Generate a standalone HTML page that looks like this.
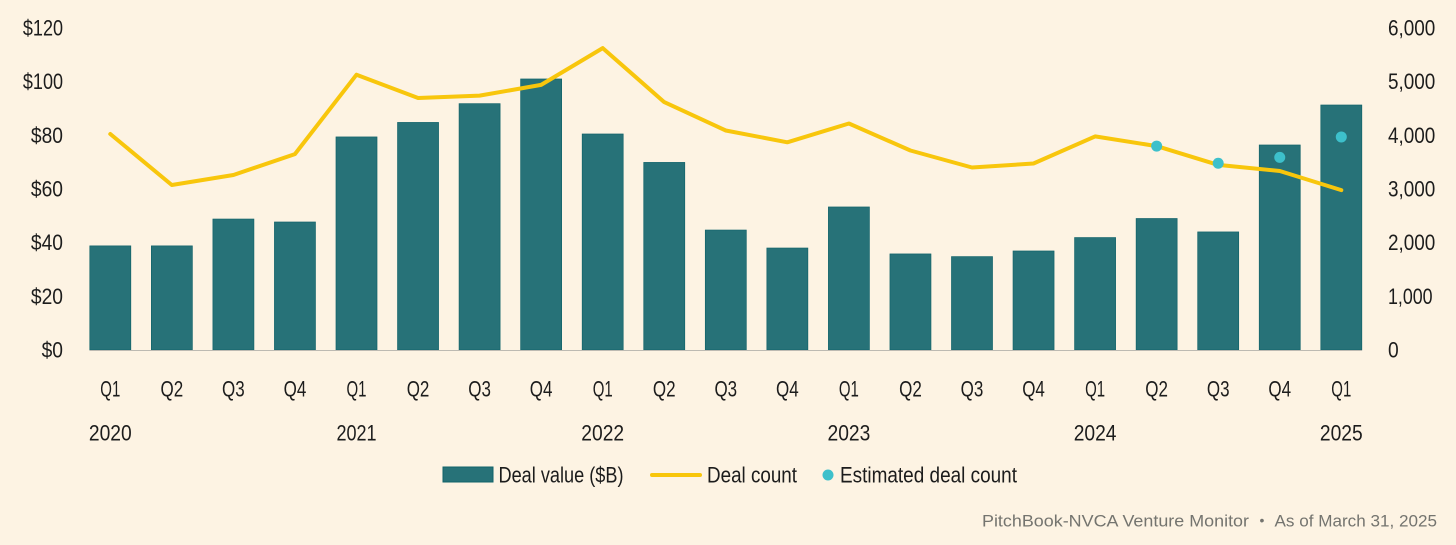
<!DOCTYPE html>
<html lang="en">
<head>
<meta charset="utf-8">
<title>Deal activity chart</title>
<style>
  html, body { margin: 0; padding: 0; background: #fdf3e3; }
  body { width: 1456px; height: 545px; overflow: hidden; }
  svg { display: block; }
  text { font-family: "Liberation Sans", sans-serif; font-size: 22px; fill: #1c1c1c; }
  .footer { font-family: "Liberation Sans", sans-serif; font-size: 16.5px; fill: #74746f; }
</style>
</head>
<body>
<svg id="chart" xmlns="http://www.w3.org/2000/svg" width="1456" height="545" viewBox="0 0 1456 545">
  <rect x="0" y="0" width="1456" height="545" fill="#fdf3e3"/>
  <g id="bars"></g>
  <line id="baseline" stroke="#bdbab2" stroke-width="1"/>
  <polyline id="line" fill="none" stroke="#f8c60c" stroke-width="4" stroke-linejoin="round" stroke-linecap="round"/>
  <g id="dots"></g>
  <g id="yleft"></g>
  <g id="yright"></g>
  <g id="xaxis"></g>
  <g>
    <g>
      <rect x="443" y="467" width="50" height="15" fill="#277278" stroke="#11636a" stroke-width="1"/>
      <text x="498.5" y="482.5" textLength="125" lengthAdjust="spacingAndGlyphs">Deal value ($B)</text>
    </g>
    <g>
      <line x1="652" y1="475" x2="700" y2="475" stroke="#f8c60c" stroke-width="4" stroke-linecap="round"/>
      <text x="707" y="482.5" textLength="90" lengthAdjust="spacingAndGlyphs">Deal count</text>
    </g>
    <g>
      <circle cx="828" cy="475" r="5.5" fill="#3dc0cb"/>
      <text x="840" y="482.5" textLength="177" lengthAdjust="spacingAndGlyphs">Estimated deal count</text>
    </g>
  </g>
  <g>
    <text class="footer" x="982" y="526.5" textLength="267" lengthAdjust="spacingAndGlyphs">PitchBook-NVCA Venture Monitor</text>
    <text class="footer" x="1262" y="525" text-anchor="middle" style="font-size:14px">•</text>
    <text class="footer" x="1274.5" y="526.5" textLength="162.5" lengthAdjust="spacingAndGlyphs">As of March 31, 2025</text>
  </g>
</svg>
<script>
const quarters = ["Q1","Q2","Q3","Q4","Q1","Q2","Q3","Q4","Q1","Q2","Q3","Q4","Q1","Q2","Q3","Q4","Q1","Q2","Q3","Q4","Q1"];
const years = ["2020","","","","2021","","","","2022","","","","2023","","","","2024","","","","2025"];
const dealValue = [38.8,38.8,48.8,47.7,79.4,84.8,91.8,101,80.5,69.9,44.7,38,53.3,35.8,34.8,36.9,41.9,49,44,76.4,91.3];
const dealCount = [4025,3075,3260,3650,5130,4695,4740,4940,5625,4620,4090,3870,4220,3717,3400,3475,3980,3800,3450,3335,2980];
const estimatedCount = [null,null,null,null,null,null,null,null,null,null,null,null,null,null,null,null,null,3800,3480,3590,3970];
const leftTicks = [0,20,40,60,80,100,120];
const rightTicks = [0,1000,2000,3000,4000,5000,6000];

const NS = "http://www.w3.org/2000/svg";
const plotBottom = 350, plotTop = 28, leftMax = 120, rightMax = 6000;
const firstX = 110.3, stepX = 61.55, barW = 41;
const xAt = i => firstX + stepX * i;
const yLeft = v => plotBottom - (v / leftMax) * (plotBottom - plotTop);
const yRight = v => plotBottom - (v / rightMax) * (plotBottom - plotTop);
const make = (tag, parent) => { const e = document.createElementNS(NS, tag); parent.appendChild(e); return e; };

/* Approximates the condensed typeface by fitting each label to a narrow advance width. */
const narrowWidth = s => [...s].reduce((w, ch) => w + (ch === "1" ? 8 : ch === "," ? 4.5 : ch === "Q" ? 12 : 10.7), 0);
const fitNarrow = (t) => {
  t.setAttribute("textLength", narrowWidth(t.textContent));
  t.setAttribute("lengthAdjust", "spacingAndGlyphs");
};

const barsG = document.getElementById("bars");
dealValue.forEach((v, i) => {
  const r = make("rect", barsG);
  
  
  r.setAttribute("x", xAt(i) - barW / 2);
  r.setAttribute("y", yLeft(v));
  r.setAttribute("width", barW);
  r.setAttribute("height", plotBottom - yLeft(v));
  r.setAttribute("fill", "#277278");
  r.setAttribute("stroke", "#11636a");
  r.setAttribute("stroke-width", "0.7");
});

const base = document.getElementById("baseline");
base.setAttribute("x1", xAt(0) - barW / 2);
base.setAttribute("x2", xAt(dealValue.length - 1) + barW / 2);
base.setAttribute("y1", plotBottom + 0.5);
base.setAttribute("y2", plotBottom + 0.5);

document.getElementById("line").setAttribute("points",
  dealCount.map((v, i) => xAt(i).toFixed(1) + "," + yRight(v).toFixed(1)).join(" "));

const dotsG = document.getElementById("dots");
estimatedCount.forEach((v, i) => {
  if (v === null) return;
  const c = make("circle", dotsG);
  
  
  c.setAttribute("cx", xAt(i));
  c.setAttribute("cy", yRight(v));
  c.setAttribute("r", 5.5);
  c.setAttribute("fill", "#3dc0cb");
});

const yl = document.getElementById("yleft");
leftTicks.forEach(v => {
  const t = make("text", yl);
  
  
  t.setAttribute("x", 63);
  t.setAttribute("y", yLeft(v) + 7.5);
  t.setAttribute("text-anchor", "end");
  t.textContent = "$" + v;
  fitNarrow(t);
});

const yr = document.getElementById("yright");
rightTicks.forEach(v => {
  const t = make("text", yr);
  
  
  t.setAttribute("x", 1388);
  t.setAttribute("y", yRight(v) + 7.5);
  t.textContent = v.toLocaleString("en-US");
  fitNarrow(t);
});

const xa = document.getElementById("xaxis");
quarters.forEach((q, i) => {
  const t = make("text", xa);
  
  
  t.setAttribute("x", xAt(i));
  t.setAttribute("y", 396.5);
  t.setAttribute("text-anchor", "middle");
  t.textContent = q;
  fitNarrow(t);
});
years.forEach((y, i) => {
  if (!y) return;
  const t = make("text", xa);
  
  
  t.setAttribute("x", xAt(i));
  t.setAttribute("y", 440.5);
  t.setAttribute("text-anchor", "middle");
  t.textContent = y;
  fitNarrow(t);
});
</script>
</body>
</html>
